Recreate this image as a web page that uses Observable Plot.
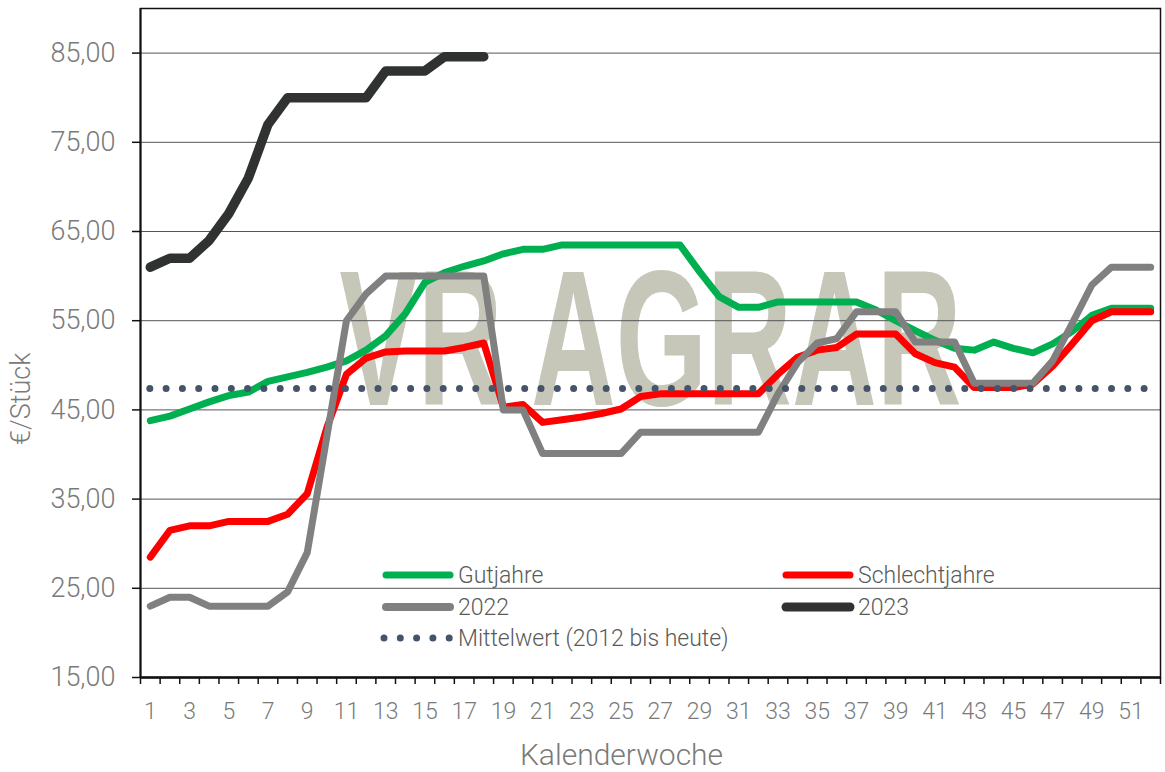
<!DOCTYPE html>
<html>
<head>
<meta charset="utf-8">
<script src="https://cdn.jsdelivr.net/npm/d3@7"></script>
<script src="https://cdn.jsdelivr.net/npm/@observablehq/plot@0.6"></script>
<style>
  body { margin: 0; background: #fff; }
  #chart { position: relative; width: 1165px; height: 772px; }
</style>
</head>
<body>
<div id="chart"></div>
<script>
// ---- data ----
const weeks = [1,2,3,4,5,6,7,8,9,10,11,12,13,14,15,16,17,18,19,20,21,22,23,24,25,26,
  27,28,29,30,31,32,33,34,35,36,37,38,39,40,41,42,43,44,45,46,47,48,49,50,51,52];
const weekLabels = [1,3,5,7,9,11,13,15,17,19,21,23,25,27,29,31,33,35,37,39,41,43,45,47,49,51];
const yTicks = [15,25,35,45,55,65,75,85];

const gutjahre = [43.8,44.3,45.1,45.9,46.6,47.0,48.2,48.7,49.2,49.8,50.5,51.7,53.3,55.8,59.3,60.4,
  61.1,61.7,62.5,63.0,63.0,63.5,63.5,63.5,63.5,63.5,63.5,63.5,60.5,57.7,56.5,56.5,57.1,57.1,57.1,
  57.1,57.1,56.2,55.0,53.9,52.8,51.9,51.7,52.6,51.9,51.4,52.4,53.8,55.6,56.4,56.4,56.4];
const schlechtjahre = [28.5,31.5,32.0,32.0,32.5,32.5,32.5,33.3,35.6,43.0,49.0,50.8,51.5,51.6,51.6,
  51.6,52.0,52.5,45.3,45.6,43.6,43.9,44.2,44.6,45.1,46.5,46.8,46.8,46.8,46.8,46.8,46.8,49.0,50.9,
  51.7,52.0,53.5,53.5,53.5,51.3,50.3,49.8,47.5,47.5,47.5,47.9,49.9,52.4,55.0,56.0,56.0,56.0];
const y2022 = [23.0,24.0,24.0,23.0,23.0,23.0,23.0,24.6,29.0,42.0,55.0,58.0,60.0,60.0,60.0,60.0,
  60.0,60.0,45.0,45.0,40.1,40.1,40.1,40.1,40.1,42.5,42.5,42.5,42.5,42.5,42.5,42.5,46.8,50.3,52.5,
  53.0,56.0,56.0,56.0,52.6,52.6,52.6,48.0,48.0,48.0,48.0,50.5,54.7,59.0,61.0,61.0,61.0];
const y2023 = [61.0,62.0,62.0,64.0,67.0,71.0,77.0,80.0,80.0,80.0,80.0,80.0,83.0,83.0,83.0,84.6,84.6,84.6];
const mittelwert = 47.4;

const seriesNames = ["Gutjahre", "Schlechtjahre", "2022", "2023", "Mittelwert (2012 bis heute)"];
const seriesColors = ["#00b050", "#ff0000", "#808080", "#303231", "#44546a"];

const toRows = (vals) => vals.map((v, i) => ({week: weeks[i], value: v}));
const bandEdges = [0, ...weeks].map(w => w + 0.5);

const FONT = "Roboto, 'Liberation Sans', sans-serif";
const TXT = "#7a7a7a";

const chart = Plot.plot({
  width: 1165,
  height: 772,
  marginLeft: 140,
  marginRight: 5,
  marginTop: 8,
  marginBottom: 95,
  style: {fontFamily: FONT, fontWeight: 300, background: "#fff", overflow: "visible"},
  x: {domain: [0.5, 52.5], axis: null},
  y: {domain: [15, 90], axis: null},
  marks: [
    Plot.text(["VR AGRAR"], {frameAnchor: "middle", fontSize: 193, fill: "#c6c7b9",
      fontFamily: "'Liberation Sans', Arial, sans-serif", fontWeight: 700}),
    Plot.gridY(yTicks.filter(t => t > 15), {stroke: "#555", strokeOpacity: 1, strokeWidth: 1}),
    Plot.frame({stroke: "#111", strokeWidth: 1.5}),
    Plot.axisY({ticks: yTicks, tickSize: 8, tickPadding: 17, fontSize: 27, fill: TXT, stroke: "#111",
      strokeWidth: 1.5, tickFormat: d => d.toFixed(2).replace(".", ","), label: null}),
    Plot.axisX({ticks: bandEdges, tickSize: 7, tickFormat: () => "", stroke: "#111", strokeWidth: 1.5, label: null}),
    Plot.axisX({ticks: weekLabels, tickSize: 0, tickPadding: 25, fontSize: 23, fill: TXT,
      tickFormat: d => String(d), label: null}),
    Plot.ruleX([0.5], {stroke: "#111", strokeWidth: 2}),
    Plot.ruleY([15], {stroke: "#111", strokeWidth: 2.5}),
    Plot.line(toRows(gutjahre), {x: "week", y: "value", stroke: seriesColors[0], strokeWidth: 7,
      strokeLinecap: "round", strokeLinejoin: "round"}),
    Plot.line(toRows(schlechtjahre), {x: "week", y: "value", stroke: seriesColors[1], strokeWidth: 7,
      strokeLinecap: "round", strokeLinejoin: "round"}),
    Plot.line(toRows(y2022), {x: "week", y: "value", stroke: seriesColors[2], strokeWidth: 7,
      strokeLinecap: "round", strokeLinejoin: "round"}),
    Plot.line(toRows(y2023), {x: "week", y: "value", stroke: seriesColors[3], strokeWidth: 9.5,
      strokeLinecap: "round", strokeLinejoin: "round"}),
    Plot.ruleY([mittelwert], {x1: weeks[0], x2: weeks[weeks.length - 1], stroke: seriesColors[4],
      strokeWidth: 7, strokeLinecap: "round", strokeDasharray: "0 16.3"}),
    Plot.text(["€/Stück"], {frameAnchor: "left", rotate: -90, dx: -119, dy: 102, fontSize: 27, fill: TXT}),
    Plot.text(["Kalenderwoche"], {frameAnchor: "bottom", dx: -29, dy: 87, fontSize: 30, fill: TXT})
  ]
});

// stretch watermark to its width
d3.select(chart).selectAll("text").filter(function() { return this.textContent === "VR AGRAR"; })
  .attr("textLength", 622).attr("lengthAdjust", "spacingAndGlyphs");

// legend inside plot area
const svg = d3.select(chart);
const lg = svg.append("g").attr("font-family", FONT).attr("font-weight", 300).attr("font-size", 23)
  .attr("fill", "#5a5a5a").attr("text-anchor", "start");
const legendItems = [
  {i: 0, x: 383, y: 575, w: 7},
  {i: 1, x: 783, y: 575, w: 7},
  {i: 2, x: 383, y: 607, w: 8},
  {i: 3, x: 783, y: 607, w: 9},
  {i: 4, x: 383, y: 638, w: 7, dotted: true}
];
for (const it of legendItems) {
  const ln = lg.append("line").attr("x1", it.x + 3).attr("x2", it.x + 67).attr("y1", it.y).attr("y2", it.y)
    .attr("stroke", seriesColors[it.i]).attr("stroke-width", it.w).attr("stroke-linecap", "round");
  if (it.dotted) ln.attr("x1", it.x + 1).attr("x2", it.x + 67).attr("stroke-dasharray", "0 16.3");
  lg.append("text").attr("x", it.x + 75).attr("y", it.y).attr("dy", "0.35em").text(seriesNames[it.i]);
}

document.getElementById("chart").appendChild(chart);
</script>
</body>
</html>
